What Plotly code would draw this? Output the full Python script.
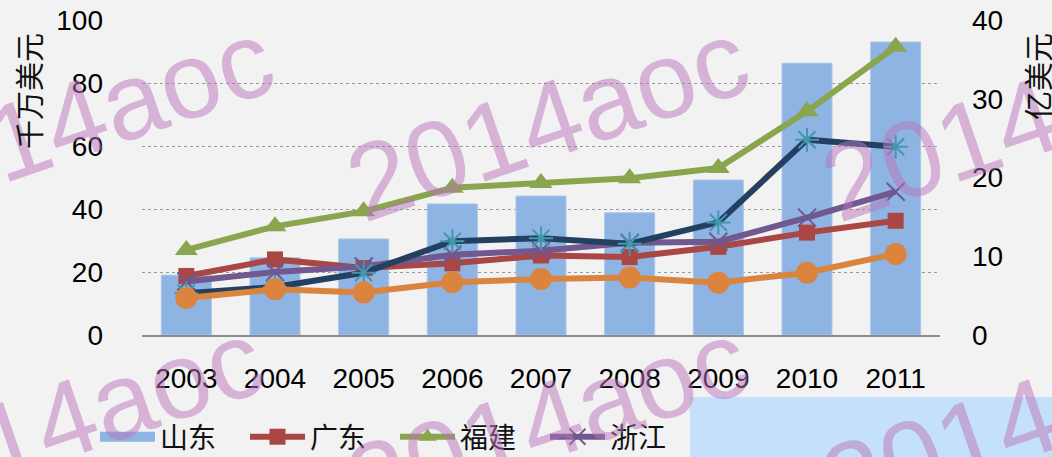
import plotly.graph_objects as go

years = ["2003", "2004", "2005", "2006", "2007", "2008", "2009", "2010", "2011"]
shandong = [19.0, 24.5, 30.5, 41.6, 44.1, 38.8, 49.2, 86.3, 93.0]   # 千万美元 (left axis)
guangdong = [7.5, 9.6, 8.5, 9.1, 10.1, 9.9, 11.2, 13.0, 14.5]      # 亿美元 (right axis)
fujian = [10.8, 13.8, 15.7, 18.7, 19.3, 19.9, 21.2, 28.4, 36.6]
zhejiang = [6.8, 8.0, 8.7, 10.2, 10.7, 11.7, 11.85, 14.9, 18.2]
navy_series = [5.3, 6.1, 7.9, 11.9, 12.3, 11.6, 14.3, 24.8, 23.9]
orange_series = [4.7, 5.8, 5.4, 6.7, 7.1, 7.3, 6.65, 7.9, 10.3]

left_ticks = [0, 20, 40, 60, 80, 100]
right_ticks = [0, 10, 20, 30, 40]

W, H = 1052, 457
PL, PR, PT, PB = 142, 940, 20, 335


def px(x):
    return (x - PL) / (PR - PL)


def py(y):
    return (PB - y) / (PB - PT)


FONT = "Liberation Sans, Noto Sans CJK SC, sans-serif"
BAR_COLOR = "#8db4e2"
LW = 6

fig = go.Figure()
fig.add_trace(go.Bar(x=years, y=shandong, name="山东", showlegend=False,
                     marker=dict(color=BAR_COLOR, line=dict(color="#a9c6ea", width=1)), yaxis="y"))
# legend entry for the bar series (wide swatch)
fig.add_trace(go.Scatter(x=[None], y=[None], name="山东", mode="lines", yaxis="y",
                         line=dict(color=BAR_COLOR, width=16), hoverinfo="skip"))
fig.add_trace(go.Scatter(x=years, y=guangdong, name="广东", yaxis="y2", mode="lines+markers",
                         line=dict(color="#aa4643", width=LW), marker=dict(symbol="square", size=16, color="#aa4643")))
fig.add_trace(go.Scatter(x=years, y=fujian, name="福建", yaxis="y2", mode="lines+markers",
                         line=dict(color="#89a54e", width=LW), marker=dict(symbol="triangle-up", size=20, color="#89a54e")))
fig.add_trace(go.Scatter(x=years, y=zhejiang, name="浙江", yaxis="y2", mode="lines+markers",
                         line=dict(color="#71588f", width=LW),
                         marker=dict(symbol="x-thin-open", size=18, color="#71588f", line=dict(color="#71588f", width=2))))
fig.add_trace(go.Scatter(x=years, y=navy_series, name="江苏", yaxis="y2", mode="lines+markers", showlegend=False,
                         line=dict(color="#244061", width=LW),
                         marker=dict(symbol="asterisk-open", size=20, color="#4198af", line=dict(color="#4198af", width=2))))
fig.add_trace(go.Scatter(x=years, y=orange_series, name="上海", yaxis="y2", mode="lines+markers", showlegend=False,
                         line=dict(color="#db843d", width=LW), marker=dict(symbol="circle", size=22, color="#db843d")))

# watermark
wm_color = "rgba(185,115,185,0.5)"
wm = [(72, 120), (547, 120), (1022, 120), (62, 420), (547, 420), (1022, 420)]
annotations = []
for (cx, cy) in wm:
    annotations.append(dict(text="2014aoc", x=px(cx), y=py(cy), xref="paper", yref="paper",
                            xanchor="center", yanchor="middle", showarrow=False, textangle=-19,
                            font=dict(family="Liberation Sans, Arial, sans-serif", size=108, color=wm_color)))
annotations.append(dict(text="千万美元", x=px(28), y=py(91), xref="paper", yref="paper", xanchor="center",
                        yanchor="middle", showarrow=False, textangle=-90,
                        font=dict(family="Noto Sans CJK SC", size=29, color="#111")))
annotations.append(dict(text="亿美元", x=px(1037), y=py(77), xref="paper", yref="paper", xanchor="center",
                        yanchor="middle", showarrow=False, textangle=-90,
                        font=dict(family="Noto Sans CJK SC", size=29, color="#111")))

fig.update_layout(
    width=W, height=H, autosize=False,
    margin=dict(l=PL, r=W - PR, t=PT, b=H - PB, pad=0, autoexpand=False),
    paper_bgcolor="#f2f2f2", plot_bgcolor="#f2f2f2",
    font=dict(family=FONT, size=28, color="#000"),
    bargap=0.436,
    showlegend=True,
    legend=dict(orientation="h", x=px(95), y=py(437), xanchor="left", yanchor="middle",
                bgcolor="rgba(0,0,0,0)", itemwidth=55, entrywidth=80, entrywidthmode="pixels",
                font=dict(family="Noto Sans CJK SC", size=28, color="#111"), traceorder="normal",
                tracegroupgap=0, itemsizing="trace"),
    xaxis=dict(type="category", range=[-0.5, len(years) - 0.5], showgrid=False, showline=True,
               linecolor="#8c8c8c", linewidth=2,
               ticks="", ticklabelstandoff=17, tickfont=dict(size=28), zeroline=False),
    yaxis=dict(range=[0, 100], tickvals=left_ticks, showgrid=True, gridcolor="#9a9a9a", gridwidth=1,
               griddash="dot", zeroline=False, showline=False, ticks="", ticklabelstandoff=38,
               tickfont=dict(size=28)),
    yaxis2=dict(range=[0, 40], tickvals=right_ticks, overlaying="y", side="right", showgrid=False,
                zeroline=False, showline=False, ticks="", ticklabelstandoff=31, tickfont=dict(size=28)),
    shapes=[dict(type="rect", xref="paper", yref="paper", x0=px(690), x1=px(1060), y0=py(397), y1=py(470),
                 fillcolor="#c4e0fb", line=dict(width=0), layer="above")],
    annotations=annotations,
)

fig.write_html(
    "out.html",
    config={"displayModeBar": False},
    post_script="document.body.style.margin='0';document.body.style.background='#f2f2f2';"
                "document.body.style.overflow='hidden';",
)
